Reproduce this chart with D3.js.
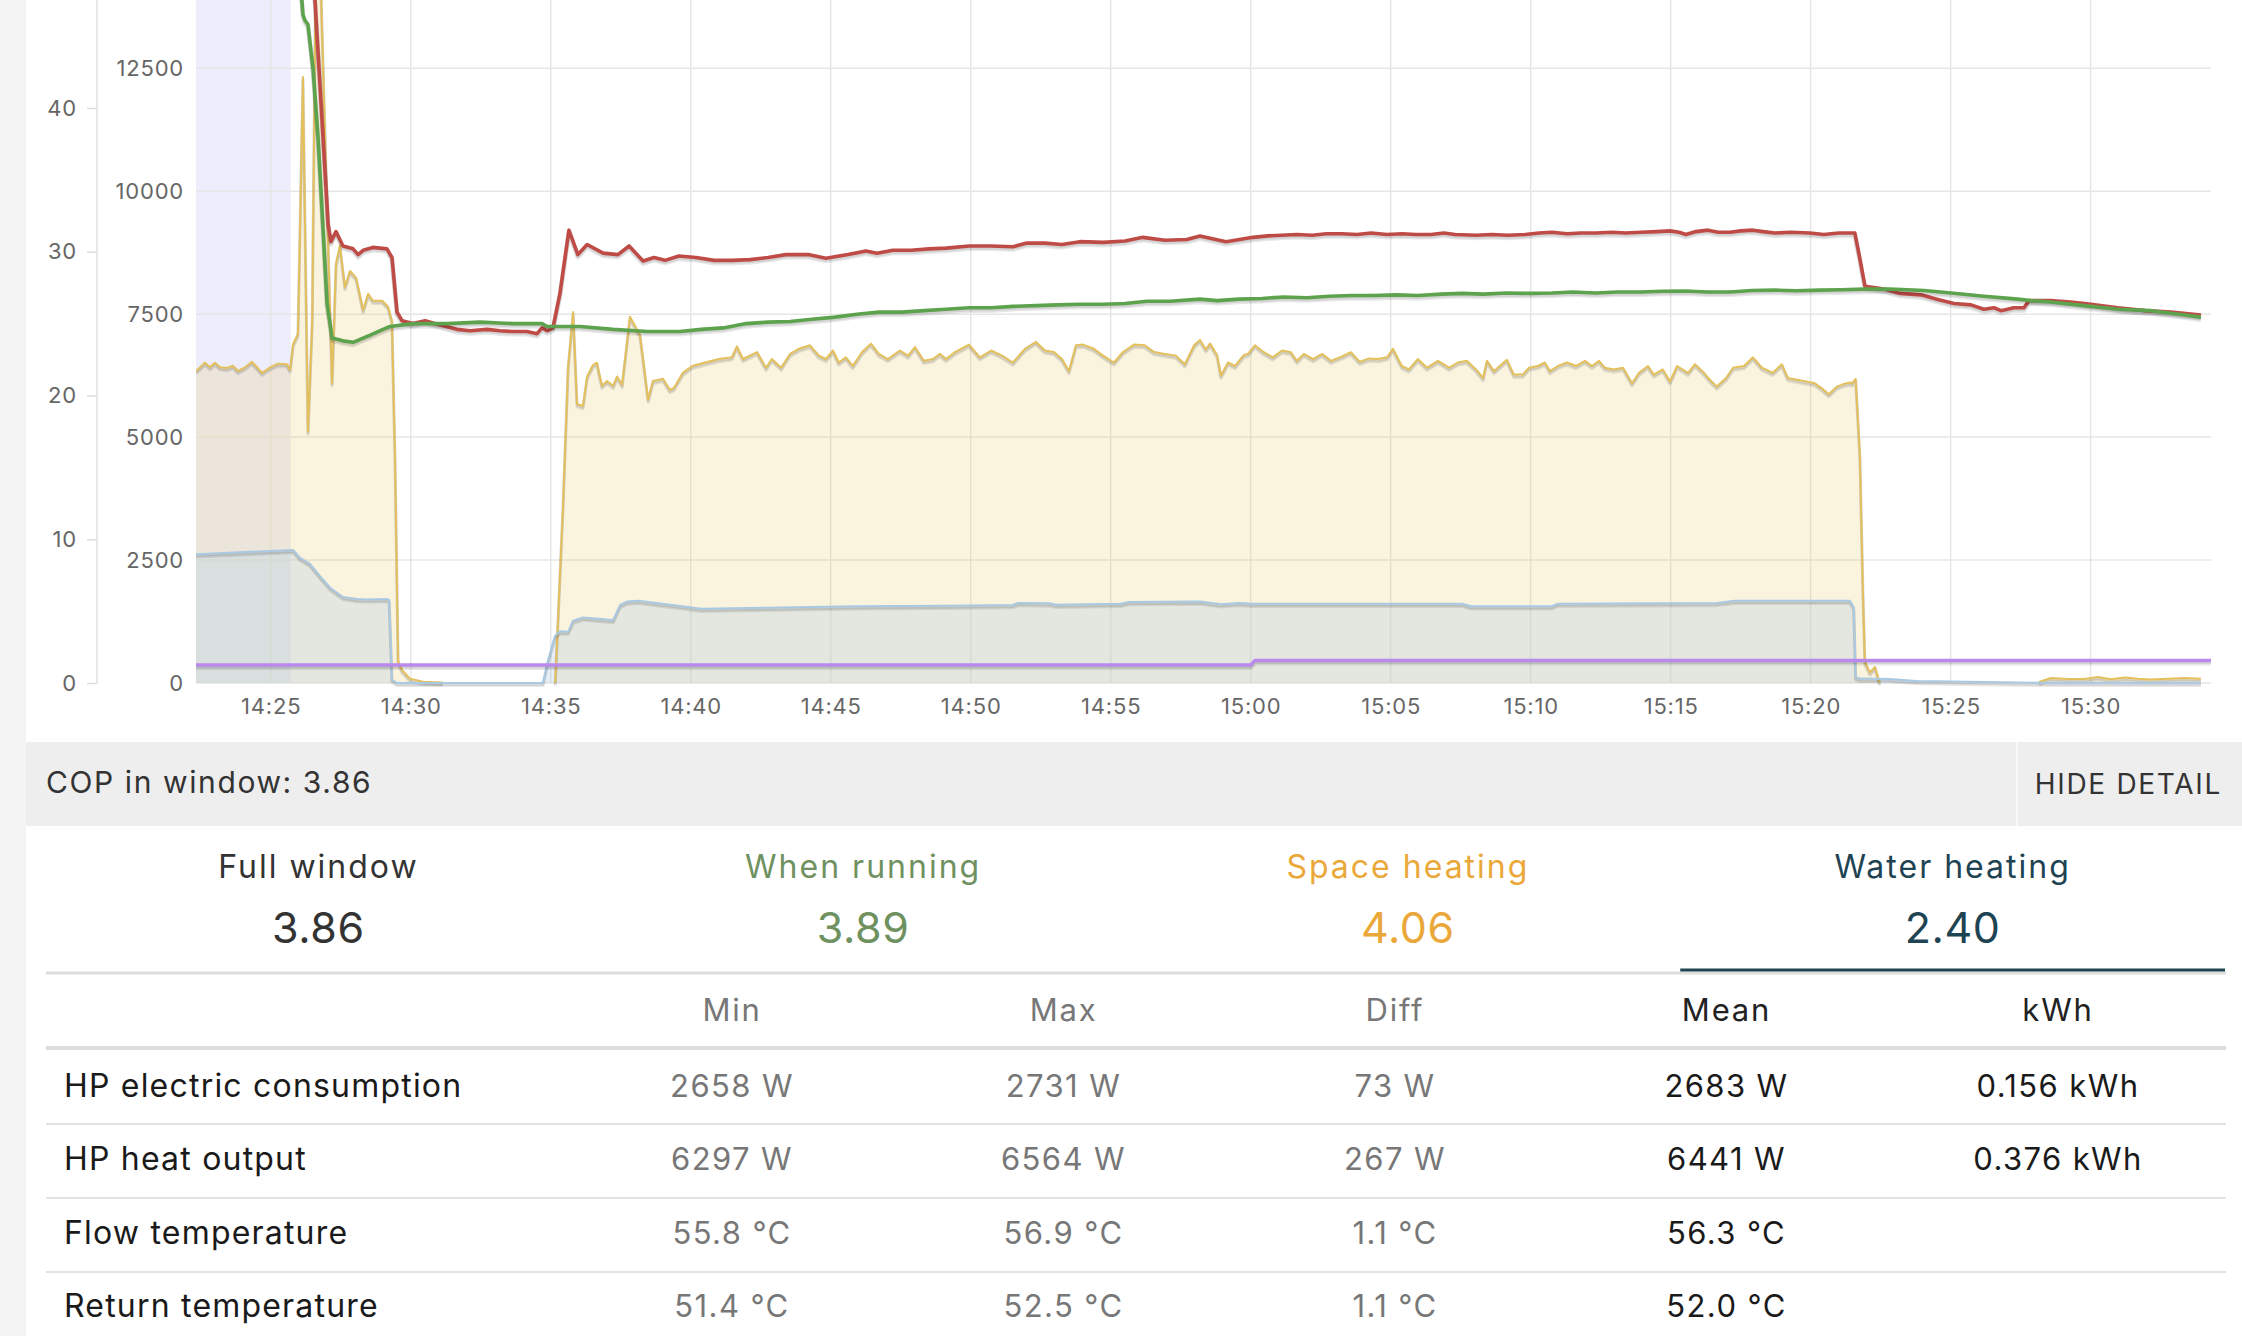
<!DOCTYPE html>
<html><head><meta charset="utf-8">
<script src="https://cdn.jsdelivr.net/npm/d3@7"></script>
<style>
html,body{margin:0;padding:0;background:#fff;}
svg{display:block;}
text{font-family:Inter,"Noto Sans",sans-serif;}
</style></head><body><svg id="c" width="2242" height="1336"></svg>
<script>
// ---------- DATA (time = minutes after 14:00) ----------
const flowTime = [22.33,23.3,24.3,25.3,25.85,26.2,26.58,27.05,27.15,27.33,27.58,27.94,28.12,28.3,28.65,29.15,29.33,29.51,29.69,30.08,30.51,31.05,31.65,32.12,32.72,33.19,33.65,34.15,34.51,34.69,34.87,35.08,35.33,35.65,35.97,36.3,36.87,37.4,37.8,38.3,38.69,39.08,39.58,40.19,40.83,41.47,42.12,42.76,43.4,44.19,44.83,45.62,46.26,46.65,47.22,47.87,48.51,49.12,49.94,50.73,51.51,52.01,52.65,53.26,53.9,54.73,55.51,56.15,56.94,57.72,58.19,59.12,60.08,60.6,61.1,61.65,62.2,62.7,63.26,63.8,64.3,64.87,65.4,65.9,66.44,66.9,67.3,68.05,68.6,69.2,69.8,70.3,70.76,71.3,71.8,72.33,72.9,73.4,73.94,74.5,74.98,75.3,75.55,75.9,76.33,76.7,77.12,77.5,77.94,78.3,78.72,79.3,79.97,80.47,81.0,81.58,81.76,81.94,82.62,83.19,83.94,84.51,85.12,85.73,86.19,86.55,86.8,87.26,87.62,87.8,88.58,89.29,90.01,90.97,91.94,92.87,93.94];
const flowTemp = [56.3,56.5,56.8,56.6,56.0,52.0,47.5,31.9,30.7,31.4,30.4,30.2,29.8,30.1,30.3,30.2,29.6,25.8,25.2,25.0,25.2,24.9,24.6,24.5,24.6,24.5,24.45,24.45,24.3,24.7,24.5,24.7,27.1,31.5,29.8,30.5,29.9,29.8,30.4,29.35,29.6,29.4,29.7,29.6,29.4,29.4,29.45,29.6,29.8,29.8,29.55,29.8,30.05,29.9,30.1,30.1,30.2,30.25,30.4,30.4,30.35,30.6,30.6,30.5,30.7,30.65,30.75,31.0,30.8,30.85,31.1,30.7,31.0,31.1,31.15,31.2,31.15,31.25,31.25,31.2,31.3,31.2,31.25,31.2,31.2,31.3,31.2,31.15,31.2,31.15,31.2,31.3,31.35,31.25,31.3,31.3,31.35,31.3,31.35,31.4,31.45,31.35,31.2,31.4,31.5,31.35,31.35,31.45,31.5,31.4,31.3,31.35,31.3,31.2,31.3,31.3,29.5,27.6,27.4,27.1,27.0,26.7,26.4,26.3,26.0,26.1,25.9,26.1,26.1,26.6,26.6,26.5,26.35,26.1,25.9,25.8,25.6];

const returnTime = [22.33,23.3,24.3,25.3,25.85,26.11,26.15,26.22,26.33,26.51,26.69,26.87,27.01,27.19,27.58,27.94,28.19,28.55,29.01,29.26,30.08,31.3,32.48,33.65,34.69,34.87,36.05,37.23,38.44,39.62,40.37,41.16,41.98,42.76,43.55,44.33,45.15,45.94,46.72,47.54,48.33,49.12,49.94,50.73,51.51,52.33,53.12,53.9,54.73,55.51,56.3,57.12,58.19,58.8,59.58,60.4,61.19,62.0,62.8,63.6,64.37,65.2,65.97,66.8,67.55,68.3,69.15,70.0,70.76,71.5,72.33,73.1,73.94,74.7,75.55,76.3,77.12,77.9,78.72,79.5,80.33,81.1,81.9,82.83,84.05,85.02,86.19,87.4,87.87,88.58,89.76,90.97,92.15,93.37,93.94];
const returnTemp = [52.0,52.1,52.3,52.1,51.0,47.5,46.5,46.1,45.8,42.7,37.9,31.5,26.4,24.0,23.8,23.7,23.9,24.2,24.6,24.8,25.0,25.0,25.1,25.0,25.0,24.8,24.8,24.6,24.45,24.45,24.6,24.7,25.0,25.1,25.15,25.3,25.45,25.65,25.8,25.8,25.9,26.0,26.1,26.1,26.2,26.25,26.3,26.35,26.35,26.4,26.55,26.55,26.7,26.6,26.7,26.75,26.85,26.8,26.9,26.95,26.95,27.0,26.95,27.05,27.1,27.05,27.13,27.1,27.13,27.2,27.13,27.2,27.2,27.25,27.27,27.2,27.2,27.3,27.33,27.28,27.33,27.35,27.4,27.4,27.3,27.13,26.9,26.7,26.6,26.5,26.25,26.0,25.9,25.6,25.45];

const outsideTime = [22.33,60.0,60.15,94.3];
const outsideTemp = [1.25,1.25,1.57,1.57];

const heatTime = [22.33,22.65,22.83,23.01,23.19,23.44,23.65,23.83,24.08,24.33,24.69,24.98,25.26,25.58,25.69,25.8,25.97,26.15,26.33,26.48,26.65,27.19,27.33,27.47,27.65,27.83,28.05,28.3,28.48,28.65,28.98,29.19,29.33,29.44,29.55,29.69,29.97,30.44,31.15,
 31.2,35.1,
 35.16,35.44,35.62,35.8,35.94,36.15,36.3,36.51,36.65,36.83,37.01,37.23,37.37,37.55,37.83,38.19,38.48,38.65,39.01,39.26,39.4,39.72,40.05,40.51,41.01,41.47,41.65,41.87,42.37,42.69,42.9,43.23,43.55,43.87,44.26,44.58,44.83,45.08,45.29,45.54,45.79,46.12,46.44,46.72,47.04,47.47,47.76,48.01,48.33,48.65,48.9,49.12,49.44,49.94,50.33,50.73,51.12,51.51,51.94,52.33,52.65,52.97,53.26,53.51,53.76,54.01,54.4,54.73,55.12,55.44,55.83,56.22,56.55,56.94,57.33,57.65,57.98,58.19,58.4,58.55,58.8,58.94,59.19,59.44,59.76,59.9,60.15,60.47,60.79,61.12,61.44,61.65,61.9,62.23,62.55,62.87,63.26,63.58,63.9,64.23,64.55,64.87,65.08,65.4,65.65,65.97,66.3,66.69,67.09,67.4,67.72,68.05,68.3,68.44,68.69,68.9,69.15,69.4,69.72,69.94,70.26,70.51,70.69,70.97,71.3,71.62,71.94,72.19,72.44,72.65,72.97,73.3,73.62,73.87,74.19,74.4,74.72,74.98,75.23,75.62,75.87,76.19,76.4,76.65,76.98,77.23,77.62,77.94,78.26,78.65,78.97,79.19,79.51,79.83,80.15,80.4,80.65,80.94,81.19,81.4,81.47,81.61,81.76,81.87,81.94,82.12,82.3,82.47,
 82.5,88.1,
 88.16,88.58,89.19,89.76,90.26,90.73,91.23,91.69,92.15,92.76,93.37,93.94];
const heatW = [6344,6513,6424,6513,6420,6405,6450,6344,6420,6531,6307,6419,6494,6480,6372,6893,7096,12320,5112,7352,17000,6100,8520,8894,8052,8378,8239,7584,7914,7773,7773,7651,7361,4555,447,264,89,24,10,
 null,null,
 0,3620,6425,7544,5673,5632,6232,6466,6513,6045,6140,6045,6232,6065,7446,7076,5766,6140,6185,5958,6000,6307,6446,6517,6588,6623,6846,6588,6730,6411,6588,6411,6692,6797,6867,6657,6588,6761,6517,6623,6446,6730,6901,6692,6588,6761,6657,6832,6551,6588,6692,6588,6730,6881,6623,6761,6657,6517,6797,6938,6761,6730,6588,6344,6867,6881,6797,6657,6517,6730,6881,6867,6730,6692,6657,6482,6867,6974,6783,6901,6671,6251,6517,6446,6671,6692,6867,6726,6622,6761,6726,6551,6692,6586,6692,6551,6643,6726,6531,6600,6586,6622,6797,6446,6376,6586,6411,6551,6411,6517,6551,6376,6202,6551,6342,6446,6572,6271,6271,6411,6446,6517,6342,6446,6517,6446,6551,6446,6551,6411,6376,6411,6096,6307,6446,6271,6376,6133,6446,6307,6482,6307,6167,6027,6202,6411,6446,6622,6411,6307,6482,6202,6167,6133,6096,5992,5872,6027,6082,6110,6090,6181,4626,1830,427,216,325,4,
 null,null,
 20,101,80,82,122,75,110,85,70,85,100,85];

const elecTime = [22.33,25.8,26.05,26.4,26.76,27.12,27.58,28.08,28.44,29.15,29.23,29.33,29.51,34.72,34.9,35.15,35.33,35.62,35.8,36.15,37.23,37.48,37.73,38.12,39.62,40.37,42.76,45.94,49.12,51.51,51.69,52.8,53.05,55.37,55.65,58.19,58.94,59.58,60.08,67.55,67.87,70.76,70.97,76.65,77.29,81.4,81.54,81.61,81.76,82.83,83.79,88.12,93.94];
const elecW = [2620,2704,2544,2424,2175,1938,1749,1708,1700,1708,1690,71,0,0,447,956,1051,1040,1267,1331,1281,1586,1657,1671,1566,1511,1531,1560,1570,1586,1629,1620,1590,1610,1647,1657,1600,1629,1610,1610,1560,1560,1614,1629,1671,1671,1545,110,89,80,41,4,4];

const dhwBand = [22.33, 25.71];   // water heating period (shaded)
const tempTicks = [0,10,20,30,40];
const powerTicks = [0,2500,5000,7500,10000,12500];

const copTitle = "COP in window: 3.86";
const detailButton = "HIDE DETAIL";
const modeNames = ["Full window","When running","Space heating","Water heating"];
const modeCOP = ["3.86","3.89","4.06","2.40"];
const colHeaders = ["Min","Max","Diff","Mean","kWh"];
const rowLabels = ["HP electric consumption","HP heat output","Flow temperature","Return temperature"];
const colMin  = ["2658 W","6297 W","55.8 °C","51.4 °C"];
const colMax  = ["2731 W","6564 W","56.9 °C","52.5 °C"];
const colDiff = ["73 W","267 W","1.1 °C","1.1 °C"];
const colMean = ["2683 W","6441 W","56.3 °C","52.0 °C"];
const colKWh  = ["0.156 kWh","0.376 kWh","",""];

// ---------- CHART ----------
const svg = d3.select("#c");
const base = new Date(2024,0,1,14,0,0);
const toDate = m => new Date(base.getTime() + m*60000);
const L = 196, R = 2211, T = 0, B = 683;

const x = d3.scaleTime().domain([toDate(22.33), toDate(94.3)]).range([L, R]);
const yT = d3.scaleLinear().domain([0, 47.51]).range([B, T]);
const yP = d3.scaleLinear().domain([0, 13888]).range([B, T]);

svg.append("rect").attr("x",0).attr("y",0).attr("width",26).attr("height",1336).attr("fill","#f4f4f4");

svg.append("defs").append("clipPath").attr("id","plot")
  .append("rect").attr("x",L).attr("y",T).attr("width",R-L).attr("height",B-T+4);

// DHW band
svg.append("rect").attr("x",x(toDate(dhwBand[0]))).attr("y",T)
  .attr("width",x(toDate(dhwBand[1]))-x(toDate(dhwBand[0]))).attr("height",B-T)
  .attr("fill","#ededfb");

// grid
const timeTicks = x.ticks(d3.timeMinute.every(5));
svg.append("g").selectAll("line").data(timeTicks).join("line")
  .attr("x1",d=>x(d)).attr("x2",d=>x(d)).attr("y1",T).attr("y2",B)
  .attr("stroke","#e6e6e6").attr("stroke-width",1.5);
svg.append("g").selectAll("line").data(powerTicks).join("line")
  .attr("x1",L).attr("x2",R).attr("y1",d=>yP(d)).attr("y2",d=>yP(d))
  .attr("stroke","#e6e6e6").attr("stroke-width",1.5);

const plot = svg.append("g").attr("clip-path","url(#plot)");

function series(times, vals){ return times.map((t,i)=>({t:toDate(t), v:vals[i]})); }
const heat = series(heatTime, heatW);
const elec = series(elecTime, elecW);
const flow = series(flowTime, flowTemp);
const ret = series(returnTime, returnTemp);
const outs = series(outsideTime, outsideTemp);

const areaP = d3.area().defined(d=>d.v!==null).x(d=>x(d.t)).y0(yP(0)).y1(d=>yP(d.v));
const lineP = d3.line().defined(d=>d.v!==null).x(d=>x(d.t)).y(d=>yP(d.v));
const lineT = d3.line().x(d=>x(d.t)).y(d=>yT(d.v));

plot.append("path").datum(heat).attr("d",areaP).attr("fill","rgb(232,200,105)").attr("fill-opacity",0.22);
plot.append("path").datum(elec).attr("d",areaP).attr("fill","rgb(181,209,228)").attr("fill-opacity",0.34);

function drawLine(data, gen, color, w){
  [[0,2.8],[0,1.4]].forEach(o=>{
    plot.append("path").datum(data).attr("d",gen).attr("transform",`translate(${o[0]},${o[1]})`)
      .attr("fill","none").attr("stroke","rgba(0,0,0,0.09)").attr("stroke-width",w+1)
      .attr("stroke-linejoin","round");
  });
  plot.append("path").datum(data).attr("d",gen).attr("fill","none")
    .attr("stroke",color).attr("stroke-width",w).attr("stroke-linejoin","round");
}
drawLine(heat, lineP, "#e4c05c", 2);
drawLine(elec, lineP, "#a9c9e3", 2);
drawLine(outs, lineT, "#bb88ee", 3.4);
drawLine(flow, lineT, "#bf4b47", 3.6);
drawLine(ret, lineT, "#5da34d", 3.6);

// axes
const tickFont = 22, tickColor = "#666";
function styleTicks(g){
  g.selectAll("text").attr("font-size",tickFont).attr("fill",tickColor)
    .attr("font-family","Inter").attr("letter-spacing",0.8);
}
const ax1 = svg.append("g").attr("transform",`translate(97,0)`)
  .call(d3.axisLeft(yT).tickValues(tempTicks).tickSize(10).tickSizeOuter(0).tickPadding(10));
ax1.select(".domain").attr("stroke","#e8e8e8").attr("stroke-width",2).attr("d",`M0,${T}V${B}`);
ax1.selectAll(".tick line").attr("stroke","#dddddd").attr("stroke-width",1.5);
styleTicks(ax1);

const ax2 = svg.append("g").attr("transform",`translate(${L},0)`)
  .call(d3.axisLeft(yP).tickValues(powerTicks).tickFormat(d3.format("d")).tickSize(0).tickPadding(12));
ax2.select(".domain").remove();
styleTicks(ax2);

const ax3 = svg.append("g").attr("transform",`translate(0,${B})`)
  .call(d3.axisBottom(x).ticks(d3.timeMinute.every(5)).tickFormat(d3.timeFormat("%H:%M")).tickSize(0).tickPadding(15));
ax3.select(".domain").remove();
styleTicks(ax3);

// ---------- STATS PANEL ----------
svg.append("rect").attr("x",26).attr("y",742).attr("width",2216).attr("height",84).attr("fill","#eeeeee");
svg.append("rect").attr("x",2016).attr("y",742).attr("width",2).attr("height",84).attr("fill","#f8f8f8");
svg.append("text").attr("x",46).attr("y",793).attr("font-size",30).attr("letter-spacing",1.6)
  .attr("fill","#333").text(copTitle);
svg.append("text").attr("x",2222).attr("y",794).attr("text-anchor","end").attr("font-size",28)
  .attr("letter-spacing",1.7).attr("fill","#333").text(detailButton);

const modeColors = ["#333333","#6f915f","#eba83a","#1e4352"];
const modeX = d3.scaleBand().domain(d3.range(4)).range([46,2225]);
const mg = svg.append("g");
mg.selectAll("text.mn").data(modeNames).join("text").attr("class","mn")
  .attr("x",(d,i)=>modeX(i)+modeX.bandwidth()/2).attr("y",878).attr("text-anchor","middle")
  .attr("font-size",32).attr("letter-spacing",2.0).attr("fill",(d,i)=>modeColors[i]).text(d=>d);
mg.selectAll("text.mv").data(modeCOP).join("text").attr("class","mv")
  .attr("x",(d,i)=>modeX(i)+modeX.bandwidth()/2).attr("y",943).attr("text-anchor","middle")
  .attr("font-size",43).attr("letter-spacing",0.6).attr("fill",(d,i)=>modeColors[i]).text(d=>d);
svg.append("rect").attr("x",46).attr("y",971.5).attr("width",2180).attr("height",3).attr("fill","#dddddd");
svg.append("rect").attr("x",modeX(3)).attr("y",968.5).attr("width",modeX.bandwidth()).attr("height",3).attr("fill","#1f4452");

// table
const colX = d3.scaleLinear().domain([0,4]).range([732,2058]);
const hdrColors = ["#777","#777","#777","#222","#222"];
svg.append("g").selectAll("text").data(colHeaders).join("text")
  .attr("x",(d,i)=>colX(i)).attr("y",1021).attr("text-anchor","middle")
  .attr("font-size",31).attr("letter-spacing",1.8).attr("fill",(d,i)=>hdrColors[i]).text(d=>d);
svg.append("rect").attr("x",46).attr("y",1046).attr("width",2180).attr("height",4).attr("fill","#dddddd");
const rowY = d3.scaleLinear().domain([0,3]).range([1097,1317]);
[1123,1197,1271].forEach(yy=>svg.append("rect").attr("x",46).attr("y",yy).attr("width",2180).attr("height",2).attr("fill","#e2e2e2"));
const cols = [colMin,colMax,colDiff,colMean,colKWh];
const tg = svg.append("g");
tg.selectAll("text.rl").data(rowLabels).join("text").attr("class","rl")
  .attr("x",64).attr("y",(d,i)=>rowY(i)).attr("font-size",32).attr("letter-spacing",1.2)
  .attr("fill","#1a1a1a").text(d=>d);
cols.forEach((col,ci)=>{
  tg.selectAll("text.c"+ci).data(col).join("text").attr("class","c"+ci)
    .attr("x",colX(ci)).attr("y",(d,i)=>rowY(i)).attr("text-anchor","middle")
    .attr("font-size",31).attr("letter-spacing",1.4).attr("fill",ci<3?"#777":"#1a1a1a").text(d=>d);
});
</script></body></html>
